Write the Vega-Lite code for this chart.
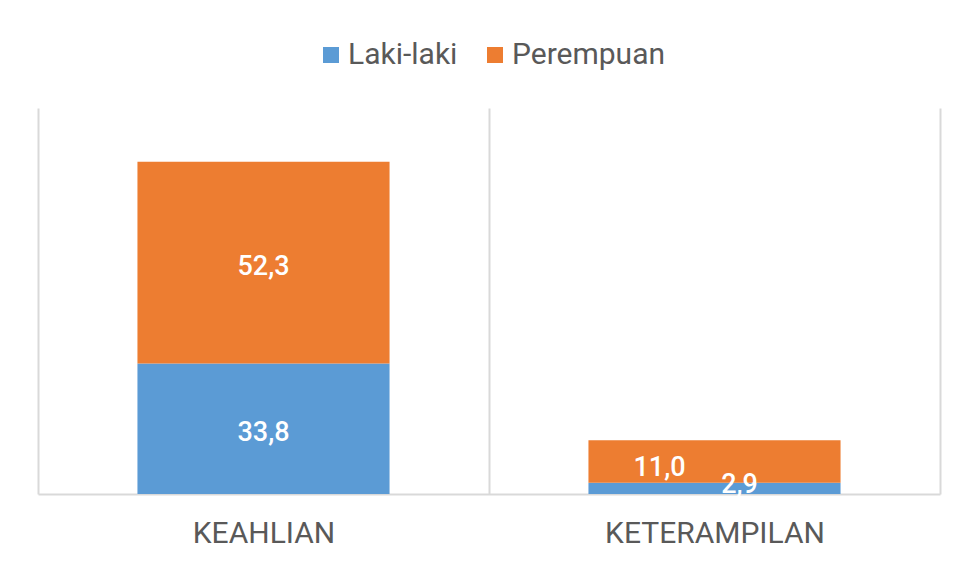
{
  "$schema": "https://vega.github.io/schema/vega-lite/v6.json",
  "width": 902,
  "height": 386,
  "autosize": {"type": "none"},
  "padding": {"left": 38, "top": 108, "right": 17, "bottom": 67},
  "background": "white",
  "config": {
    "view": {"stroke": null},
    "font": "Roboto",
    "locale": {"number": {"decimal": ",", "thousands": ".", "grouping": [3], "currency": ["", ""]}}
  },
  "data": {
    "values": [
      {"kategori": "KEAHLIAN", "jenis": "Laki-laki", "nilai": 33.8},
      {"kategori": "KEAHLIAN", "jenis": "Perempuan", "nilai": 52.3},
      {"kategori": "KETERAMPILAN", "jenis": "Laki-laki", "nilai": 2.9},
      {"kategori": "KETERAMPILAN", "jenis": "Perempuan", "nilai": 11.0}
    ]
  },
  "transform": [
    {"stack": "nilai", "groupby": ["kategori"], "sort": [{"field": "jenis", "order": "ascending"}], "as": ["y0", "y1"]},
    {"calculate": "(datum.y0 + datum.y1) / 2", "as": "ymid"}
  ],
  "encoding": {
    "x": {
      "field": "kategori",
      "type": "nominal",
      "sort": ["KEAHLIAN", "KETERAMPILAN"],
      "scale": {"paddingInner": 0, "paddingOuter": 0},
      "axis": {
        "title": null,
        "labelAngle": 0,
        "labelFontSize": 30,
        "labelLimit": 0,
        "labelColor": "#595959",
        "labelPadding": 24,
        "ticks": false,
        "domainColor": "#D9D9D9",
        "domainWidth": 2,
        "grid": true,
        "gridColor": "#D9D9D9",
        "gridWidth": 2,
        "tickBand": "extent"
      }
    }
  },
  "layer": [
    {
      "mark": {"type": "bar", "width": {"band": 0.559}},
      "encoding": {
        "y": {"field": "y0", "type": "quantitative", "scale": {"domain": [0, 100], "nice": false}, "axis": null},
        "y2": {"field": "y1"},
        "color": {
          "field": "jenis",
          "type": "nominal",
          "scale": {"domain": ["Laki-laki", "Perempuan"], "range": ["#5B9BD5", "#ED7D31"]},
          "legend": {
            "title": null,
            "orient": "none",
            "direction": "horizontal",
            "legendX": 278,
            "legendY": -68,
            "symbolType": "square",
            "symbolSize": 256,
            "symbolStrokeWidth": 0,
            "labelFontSize": 30,
            "labelColor": "#595959",
            "labelOffset": 2,
            "columnPadding": 22
          }
        }
      }
    },
    {
      "transform": [{"filter": "datum.kategori == 'KEAHLIAN'"}],
      "mark": {"type": "text", "color": "white", "fontSize": 27, "fontWeight": 500, "dy": 4},
      "encoding": {
        "y": {"field": "ymid", "type": "quantitative"},
        "text": {"field": "nilai", "type": "quantitative", "format": ".1f"}
      }
    },
    {
      "transform": [{"filter": "datum.kategori == 'KETERAMPILAN' && datum.jenis == 'Perempuan'"}],
      "mark": {"type": "text", "color": "white", "fontSize": 27, "fontWeight": 500, "dx": -55, "dy": 6},
      "encoding": {
        "y": {"field": "ymid", "type": "quantitative"},
        "text": {"field": "nilai", "type": "quantitative", "format": ".1f"}
      }
    },
    {
      "transform": [{"filter": "datum.kategori == 'KETERAMPILAN' && datum.jenis == 'Laki-laki'"}],
      "mark": {"type": "text", "color": "white", "fontSize": 27, "fontWeight": 500, "dx": 25, "dy": -3},
      "encoding": {
        "y": {"field": "ymid", "type": "quantitative"},
        "text": {"field": "nilai", "type": "quantitative", "format": ".1f"}
      }
    }
  ]
}
